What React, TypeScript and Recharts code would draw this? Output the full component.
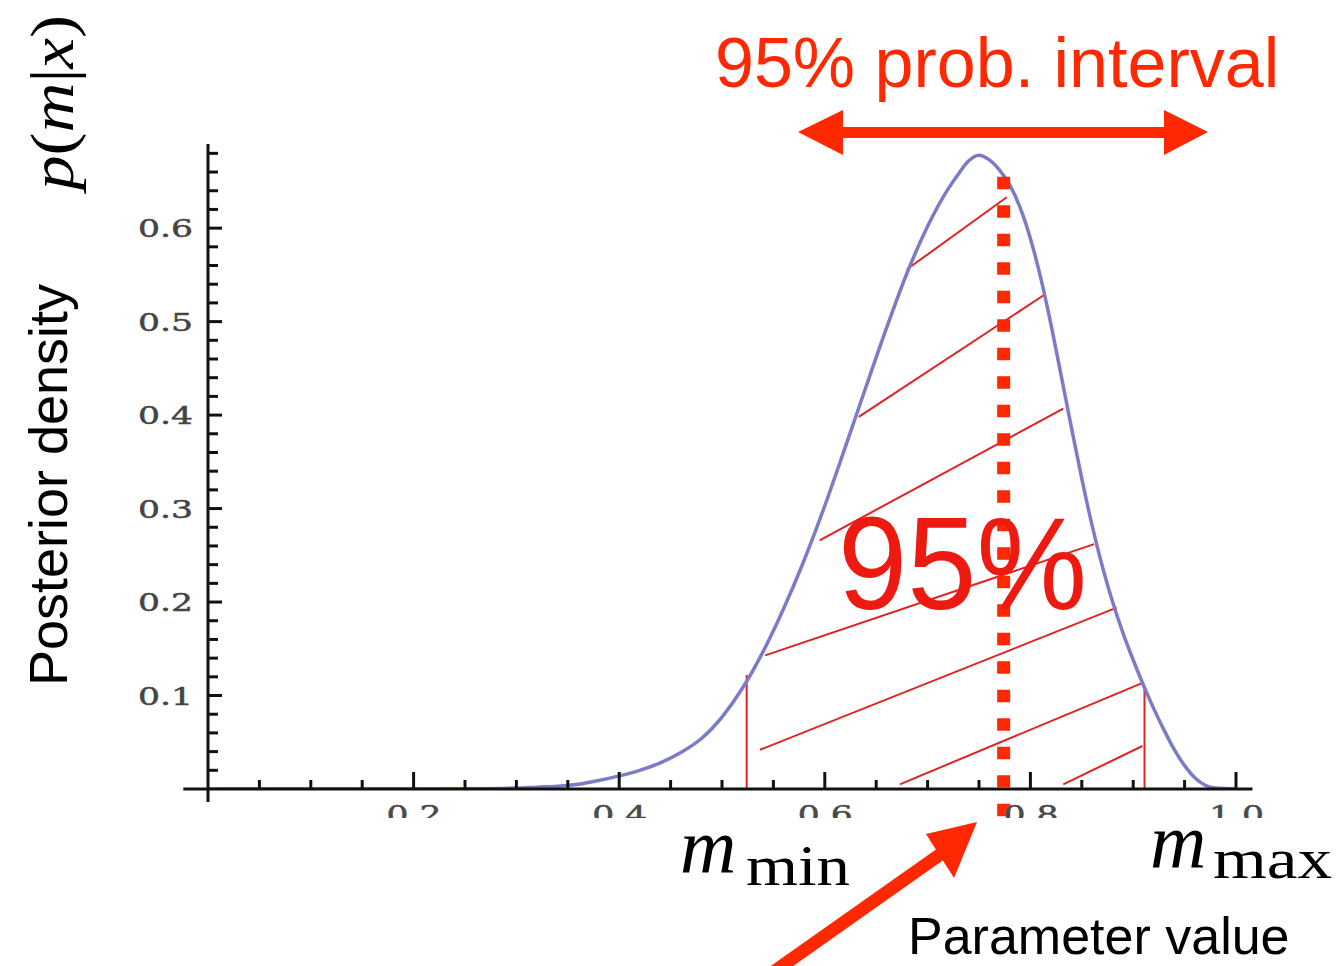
import { ComposedChart, Line, XAxis, YAxis, ReferenceLine } from 'recharts';

// posterior density
const paramValues = [
  0, 0.1, 0.2, 0.26, 0.3, 0.32, 0.34, 0.36, 0.38, 0.4, 0.42, 0.44, 0.46, 0.48, 0.5, 0.52, 0.54, 0.56, 0.58, 0.6,
  0.62, 0.64, 0.66, 0.68, 0.7, 0.72, 0.73, 0.74, 0.75, 0.76, 0.77, 0.78, 0.79, 0.8, 0.81, 0.82, 0.83, 0.84, 0.85,
  0.86, 0.87, 0.88, 0.89, 0.9, 0.91, 0.92, 0.93, 0.94, 0.95, 0.96, 0.97, 0.98, 1.0,
];
const densities = [
  0, 0, 0, 0.0003, 0.001, 0.002, 0.003, 0.005, 0.009, 0.014, 0.02, 0.028, 0.039, 0.054, 0.077, 0.108, 0.147, 0.193,
  0.245, 0.303, 0.366, 0.43, 0.493, 0.552, 0.602, 0.642, 0.658, 0.672, 0.678, 0.673, 0.662, 0.646, 0.622, 0.589,
  0.547, 0.497, 0.442, 0.386, 0.332, 0.282, 0.238, 0.2, 0.167, 0.138, 0.111, 0.086, 0.063, 0.042, 0.025, 0.012,
  0.004, 0.001, 0,
];

const xTicks = [
  0.05, 0.1, 0.15, 0.2, 0.25, 0.3, 0.35, 0.4, 0.45, 0.5, 0.55, 0.6, 0.65, 0.7, 0.75, 0.8, 0.85, 0.9, 0.95, 1.0,
];
const xLabels = ['0.2', '0.4', '0.6', '0.8', '1.0'];
const yTicks = [
  0.02, 0.04, 0.06, 0.08, 0.1, 0.12, 0.14, 0.16, 0.18, 0.2, 0.22, 0.24, 0.26, 0.28, 0.3, 0.32, 0.34, 0.36, 0.38,
  0.4, 0.42, 0.44, 0.46, 0.48, 0.5, 0.52, 0.54, 0.56, 0.58, 0.6, 0.62, 0.64, 0.66, 0.68,
];
const yLabels = ['0.1', '0.2', '0.3', '0.4', '0.5', '0.6'];

const mMin = 0.524;
const mMax = 0.911;
const mMinHeight = 0.122;
const mMaxHeight = 0.108;
const estimate = 0.774;

// hatch strokes inside the interval: [x1, y1, x2, y2]
const hatchSegments = [
  [0.68, 0.556, 0.777, 0.633],
  [0.633, 0.398, 0.814, 0.529],
  [0.595, 0.266, 0.832, 0.407],
  [0.542, 0.143, 0.862, 0.262],
  [0.537, 0.042, 0.884, 0.194],
  [0.673, 0.005, 0.908, 0.113],
  [0.832, 0.005, 0.909, 0.046],
];

const data = paramValues.map((m, i) => ({ m, p: densities[i] }));

const RED = '#ff2800';
const HATCH = '#e02222';
const SANS = '"Liberation Sans", Arial, Helvetica, sans-serif';
const SERIF = '"Liberation Serif", "Times New Roman", serif';
const TICK_FONT = '"DejaVu Serif", serif';

const fmt = (v: number) => v.toFixed(1);

function XTick(props: any) {
  const { x, y, payload, index } = props;
  const label = fmt(payload.value);
  const major = xLabels.includes(label) && Math.abs(payload.value * 5 - Math.round(payload.value * 5)) < 1e-6;
  const id = `xclip-${index}`;
  return (
    <g>
      <line x1={x} y1={y} x2={x} y2={y - (major ? 17 : 9)} stroke="#111" strokeWidth={3} />
      {major && (
        <>
          <clipPath id={id}>
            <rect x={x - 40} y={y + 5} width={80} height={24} />
          </clipPath>
          <text
            x={x - 27}
            y={y + 34}
            fontFamily={TICK_FONT}
            fontSize={25}
            fill="#4a4a4a"
            stroke="#4a4a4a"
            strokeWidth={0.5}
            textLength={55}
            lengthAdjust="spacingAndGlyphs"
            clipPath={`url(#${id})`}
          >
            {label}
          </text>
        </>
      )}
    </g>
  );
}

function YTick(props: any) {
  const { x, y, payload } = props;
  const label = fmt(payload.value);
  const major = yLabels.includes(label) && Math.abs(payload.value * 10 - Math.round(payload.value * 10)) < 1e-6;
  return (
    <g>
      <line x1={x} y1={y} x2={x + (major ? 14 : 10)} y2={y} stroke="#111" strokeWidth={3} />
      {major && (
        <text
          x={x - 70}
          y={y + 9}
          fontFamily={TICK_FONT}
          fontSize={25}
          fill="#444"
          stroke="#444"
          strokeWidth={0.5}
          textLength={55}
          lengthAdjust="spacingAndGlyphs"
        >
          {label}
        </text>
      )}
    </g>
  );
}

function Annotations() {
  return (
    <svg
      width={1337}
      height={966}
      style={{ position: 'absolute', left: 0, top: 0, pointerEvents: 'none' }}
    >
      <text x={715} y={87} fontFamily={SANS} fontSize={70} fill={RED}>
        95% prob. interval
      </text>
      {/* double-headed arrow */}
      <rect x={840} y={127} width={328} height={11} fill={RED} />
      <polygon points="798,132 843,110 843,155" fill={RED} />
      <polygon points="1208,132 1164,110 1164,155" fill={RED} />

      <text
        x={838}
        y={609}
        fontFamily={SANS}
        fontSize={132}
        fill="#ee1a12"
        textLength={249}
        lengthAdjust="spacingAndGlyphs"
      >
        95%
      </text>

      <text
        transform="translate(67,485) rotate(-90)"
        textAnchor="middle"
        fontFamily={SANS}
        fontSize={54}
        fill="#000"
      >
        Posterior density
      </text>
      <text
        transform="translate(73,190) rotate(-90)"
        fontFamily={SERIF}
        fontSize={62}
        fill="#000"
        textLength={175}
        lengthAdjust="spacingAndGlyphs"
      >
        <tspan fontStyle="italic">p</tspan>
        <tspan>(</tspan>
        <tspan fontStyle="italic">m</tspan>
        <tspan>|</tspan>
        <tspan fontStyle="italic">x</tspan>
        <tspan>)</tspan>
      </text>

      <text x={680} y={873} fontFamily={SERIF} fontSize={78} fontStyle="italic" fill="#000">
        m
      </text>
      <text x={746} y={885} fontFamily={SERIF} fontSize={56} fill="#000" textLength={104} lengthAdjust="spacingAndGlyphs">
        min
      </text>
      <text x={1150} y={868} fontFamily={SERIF} fontSize={78} fontStyle="italic" fill="#000">
        m
      </text>
      <text x={1213} y={878} fontFamily={SERIF} fontSize={56} fill="#000" textLength={119} lengthAdjust="spacingAndGlyphs">
        max
      </text>

      <text x={908} y={954} fontFamily={SANS} fontSize={52} fill="#000">
        Parameter value
      </text>

      {/* arrow pointing at the estimate */}
      <line x1={755} y1={985} x2={945} y2={851} stroke={RED} strokeWidth={13} />
      <polygon points="977,822 926,834 954,878" fill={RED} />
    </svg>
  );
}

export default function App() {
  return (
    <div style={{ position: 'absolute', left: 0, top: 0, width: 1337, height: 966, background: '#fff' }}>
      <ComposedChart width={1337} height={966} data={data} margin={{ top: 144, right: 101, bottom: 147, left: 128 }}>
        <XAxis
          dataKey="m"
          type="number"
          domain={[0, 1]}
          ticks={xTicks}
          interval={0}
          axisLine={false}
          tickLine={false}
          tickSize={0}
          tickMargin={0}
          height={30}
          tick={<XTick />}
          allowDataOverflow
        />
        <YAxis
          type="number"
          domain={[0, 0.69]}
          ticks={yTicks}
          interval={0}
          axisLine={false}
          tickLine={false}
          tickSize={0}
          tickMargin={0}
          width={80}
          tick={<YTick />}
          allowDataOverflow
        />
        {hatchSegments.map((s, i) => (
          <ReferenceLine
            key={`h-${i}`}
            segment={[
              { x: s[0], y: s[1] },
              { x: s[2], y: s[3] },
            ]}
            stroke={HATCH}
            strokeWidth={2}
            ifOverflow="visible"
          />
        ))}
        <ReferenceLine
          segment={[
            { x: mMin, y: 0 },
            { x: mMin, y: mMinHeight },
          ]}
          stroke={HATCH}
          strokeWidth={2}
          ifOverflow="visible"
        />
        <ReferenceLine
          segment={[
            { x: mMax, y: 0 },
            { x: mMax, y: mMaxHeight },
          ]}
          stroke={HATCH}
          strokeWidth={2}
          ifOverflow="visible"
        />
        <Line
          type="monotone"
          dataKey="p"
          stroke="#7c7cc6"
          strokeWidth={3.5}
          dot={false}
          activeDot={false}
          isAnimationActive={false}
        />
        <ReferenceLine
          segment={[
            { x: -0.024, y: 0 },
            { x: 1.016, y: 0 },
          ]}
          stroke="#111"
          strokeWidth={3}
          ifOverflow="visible"
        />
        <ReferenceLine
          segment={[
            { x: 0, y: -0.014 },
            { x: 0, y: 0.69 },
          ]}
          stroke="#111"
          strokeWidth={3}
          ifOverflow="visible"
        />
        <ReferenceLine
          segment={[
            { x: estimate, y: 0.655 },
            { x: estimate, y: -0.031 },
          ]}
          stroke={RED}
          strokeWidth={13}
          strokeDasharray="12.5 16"
          ifOverflow="visible"
        />
      </ComposedChart>
      <Annotations />
    </div>
  );
}
